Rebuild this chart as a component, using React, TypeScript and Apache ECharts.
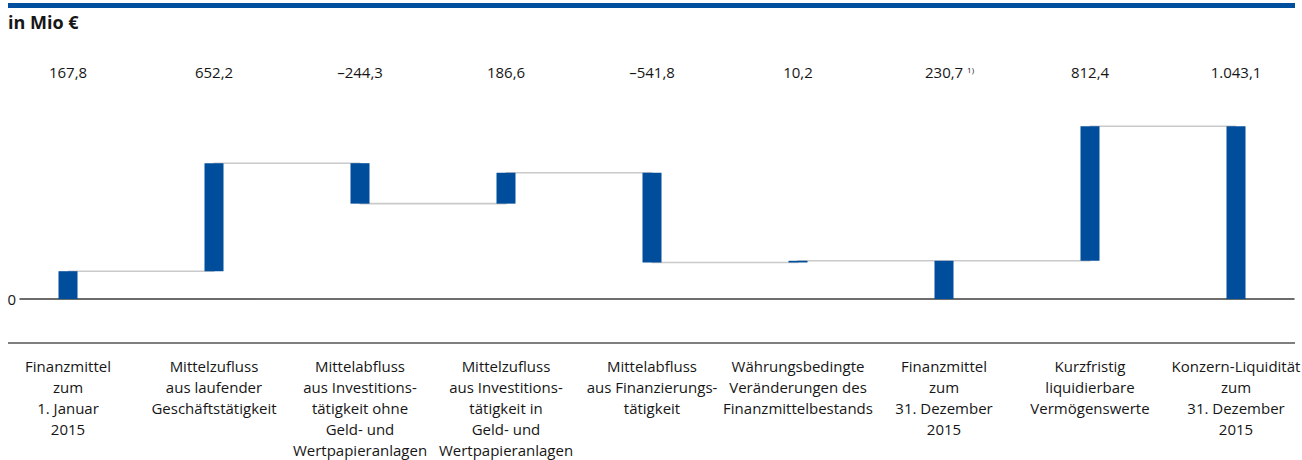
import React, { useEffect, useRef } from "react";
import * as echarts from "echarts";

const categories: string[] = [
  "Finanzmittel\nzum\n1. Januar\n2015",
  "Mittelzufluss\naus laufender\nGeschäftstätigkeit",
  "Mittelabfluss\naus Investitions-\ntätigkeit ohne\nGeld- und\nWertpapieranlagen",
  "Mittelzufluss\naus Investitions-\ntätigkeit in\nGeld- und\nWertpapieranlagen",
  "Mittelabfluss\naus Finanzierungs-\ntätigkeit",
  "Währungsbedingte\nVeränderungen des\nFinanzmittelbestands",
  "Finanzmittel\nzum\n31. Dezember\n2015",
  "Kurzfristig\nliquidierbare\nVermögenswerte",
  "Konzern-Liquidität\nzum\n31. Dezember\n2015",
];

// signed values in Mio €
const values: number[] = [167.8, 652.2, -244.3, 186.6, -541.8, 10.2, 230.7, 812.4, 1043.1];
// true = total bar (starts at zero)
const isTotal: boolean[] = [true, false, false, false, false, false, true, false, true];
// index of the value label carrying footnote 1)
const footnoteIndex = 6;

const yMax = 1280;

function fmt(v: number): string {
  const abs = Math.abs(v);
  const [intPart, dec] = abs.toFixed(1).split(".");
  const withDots = intPart.replace(/\B(?=(\d{3})+(?!\d))/g, ".");
  return (v < 0 ? "\u2013" : "") + withDots + "," + dec;
}

export default function App() {
  const ref = useRef<HTMLDivElement>(null);

  useEffect(() => {
    if (!ref.current) return;
    const chart = echarts.init(ref.current, undefined, { renderer: "svg" });

    const bases: number[] = [];
    const heights: number[] = [];
    const totals: number[] = [];
    let running = 0;
    values.forEach((v, i) => {
      if (isTotal[i]) {
        bases.push(0);
        heights.push(v);
        running = v;
      } else {
        const next = running + v;
        bases.push(Math.min(running, next));
        heights.push(Math.abs(v));
        running = next;
      }
      totals.push(Math.round(running * 10) / 10);
    });

    const labelStrings = values.map(fmt);
    const font = "'Open Sans', 'Noto Sans', sans-serif";
    const textColor = "#161616";
    const blue = "#004d9c";

    chart.setOption({
      animation: false,
      textStyle: { fontFamily: font, color: textColor },
      grid: [
        { left: -5, right: -7, top: 87, bottom: 161, containLabel: false, outerBoundsMode: "none" },
        { left: 20, right: 8, top: 87, bottom: 161, containLabel: false, outerBoundsMode: "none" },
      ],
      xAxis: [
        {
          type: "category",
          gridIndex: 0,
          data: categories,
          position: "bottom",
          axisLine: { show: false },
          axisTick: { show: false },
          axisLabel: {
            interval: 0,
            margin: 56,
            fontFamily: font,
            fontSize: 15,
            lineHeight: 21,
            color: textColor,
            align: "center",
          },
        },
        {
          type: "category",
          gridIndex: 0,
          data: labelStrings,
          position: "top",
          axisLine: { show: false },
          axisTick: { show: false },
          axisLabel: {
            interval: 0,
            margin: 6,
            fontFamily: font,
            fontSize: 15,
            lineHeight: 18,
            color: textColor,
            formatter: (v: string, i: number) =>
              i === footnoteIndex ? "{sp|}" + v + " {sup|1)}" : v,
            rich: {
              sp: { width: 11 },
              sup: { fontSize: 8, verticalAlign: "top", padding: [2, 0, 0, 0], fontFamily: font, color: textColor },
            },
          },
        },
        {
          type: "value",
          gridIndex: 1,
          min: 0,
          max: 1,
          axisLine: { show: true, onZero: true, lineStyle: { color: "#3c3c3c", width: 1.5 } },
          axisTick: { show: false },
          axisLabel: { show: false },
          splitLine: { show: false },
        },
      ],
      yAxis: [
        {
          type: "value",
          gridIndex: 0,
          min: 0,
          max: yMax,
          show: false,
          splitLine: { show: false },
        },
        {
          type: "value",
          gridIndex: 1,
          min: 0,
          max: yMax,
          interval: yMax,
          axisLine: { show: false },
          axisTick: { show: false },
          splitLine: { show: false },
          axisLabel: {
            margin: 4,
            fontFamily: font,
            fontSize: 15,
            color: textColor,
            formatter: (v: number) => (v === 0 ? "0" : ""),
          },
        },
      ],
      graphic: [
        { type: "rect", shape: { x: 8, y: 3, width: 1287, height: 5 }, style: { fill: "#004f9f" } },
        {
          type: "text",
          x: 8,
          y: 13,
          style: { text: "in Mio €", font: "bold 18px 'Open Sans', sans-serif", fill: textColor },
        },
        {
          type: "line",
          shape: { x1: 8, y1: 343, x2: 1295, y2: 343 },
          style: { stroke: "#555555", lineWidth: 1.5 },
        },
      ],
      series: [
        {
          name: "connector",
          type: "line",
          xAxisIndex: 0,
          yAxisIndex: 0,
          data: totals,
          step: "end",
          symbol: "none",
          z: 1,
          lineStyle: { color: "#cacaca", width: 1.6 },
        },
        {
          name: "base",
          type: "bar",
          xAxisIndex: 0,
          yAxisIndex: 0,
          stack: "w",
          barWidth: 19,
          z: 3,
          itemStyle: { color: "rgba(0,0,0,0)" },
          data: bases,
        },
        {
          name: "value",
          type: "bar",
          xAxisIndex: 0,
          yAxisIndex: 0,
          stack: "w",
          barWidth: 19,
          z: 3,
          itemStyle: { color: blue },
          data: heights,
        },
      ],
    });

    return () => chart.dispose();
  }, []);

  return (
    <div
      ref={ref}
      style={{ position: "absolute", left: 0, top: 0, width: 1302, height: 460, background: "#fff" }}
    />
  );
}
